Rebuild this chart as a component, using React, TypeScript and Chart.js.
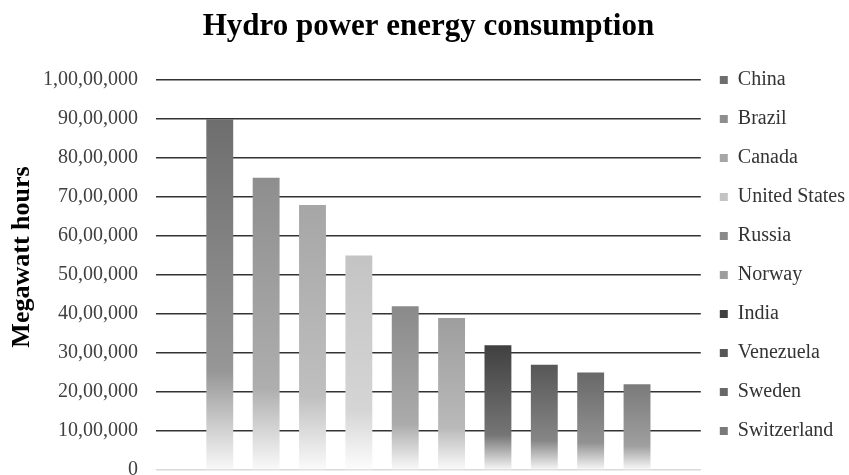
import React, { useEffect, useRef } from "react";
import { Chart, registerables } from "chart.js";

Chart.register(...registerables);

const chartTitle = "Hydro power energy consumption";
const yAxisTitle = "Megawatt hours";
const categories = ["China", "Brazil", "Canada", "United States", "Russia", "Norway", "India", "Venezuela", "Sweden", "Switzerland"];
const values = [9000000, 7500000, 6800000, 5500000, 4200000, 3900000, 3200000, 2700000, 2500000, 2200000];
const baseColors = ["#6e6e6e", "#8e8e8e", "#a6a6a6", "#c4c4c4", "#8a8a8a", "#9e9e9e", "#404040", "#575757", "#686868", "#7a7a7a"];
const yMin = 0;
const yMax = 10000000;
const yStep = 1000000;

function fmtIN(n: number): string {
  const s = Math.round(n).toString();
  if (s.length <= 3) return s;
  const last3 = s.slice(-3);
  let rest = s.slice(0, -3);
  const parts: string[] = [];
  while (rest.length > 2) {
    parts.unshift(rest.slice(-2));
    rest = rest.slice(0, -2);
  }
  if (rest) parts.unshift(rest);
  return parts.join(",") + "," + last3;
}

function mix(hex: string, t: number): string {
  const r = parseInt(hex.slice(1, 3), 16);
  const g = parseInt(hex.slice(3, 5), 16);
  const b = parseInt(hex.slice(5, 7), 16);
  const m = (c: number) => Math.round(c + (255 - c) * t);
  return `rgb(${m(r)},${m(g)},${m(b)})`;
}

const yTitlePlugin = {
  id: "yTitle",
  afterDraw(chart: any) {
    const ctx = chart.ctx;
    ctx.save();
    ctx.translate(22, 257);
    ctx.rotate(-Math.PI / 2);
    ctx.font = 'bold 26px "Liberation Serif"';
    ctx.fillStyle = "#000";
    ctx.textAlign = "center";
    ctx.textBaseline = "middle";
    ctx.fillText(yAxisTitle, 0, 0);
    ctx.restore();
  },
};

export default function App() {
  const ref = useRef<HTMLCanvasElement | null>(null);

  useEffect(() => {
    if (!ref.current) return;
    const datasets = categories.map((name, i) => ({
      label: name,
      data: [values[i]],
      backgroundColor: (c: any) => {
        const chart = c.chart;
        const area = chart.chartArea;
        if (!area || c.type !== "data") return baseColors[i];
        const top = chart.scales.y.getPixelForValue(c.raw);
        const g = chart.ctx.createLinearGradient(0, top, 0, area.bottom);
        g.addColorStop(0, baseColors[i]);
        g.addColorStop(0.72, mix(baseColors[i], 0.28));
        g.addColorStop(1, mix(baseColors[i], 0.96));
        return g;
      },
      borderWidth: 0,
      categoryPercentage: 0.851,
      barPercentage: 0.58,
    }));

    const chart = new Chart(ref.current, {
      type: "bar",
      data: { labels: [""], datasets },
      plugins: [yTitlePlugin],
      options: {
        responsive: false,
        animation: false,
        layout: { padding: { left: 0, right: -6, top: 0, bottom: 5 } },
        plugins: {
          title: {
            display: true,
            text: chartTitle,
            fullSize: false,
            color: "#000",
            font: { family: "Liberation Serif", size: 31, weight: "bold" },
            padding: { top: 8, bottom: 35 },
          },
          legend: {
            display: true,
            position: "right",
            align: "start",
            title: { display: true, text: " ", font: { size: 10 }, padding: { top: 39, bottom: 0 } },
            labels: {
              boxWidth: 8,
              boxHeight: 8,
              padding: 19,
              color: "#333",
              font: { family: "Liberation Serif", size: 20 },
              generateLabels: (chart: any) => {
                const items = Chart.defaults.plugins.legend.labels.generateLabels(chart);
                return items.map((it: any, i: number) => ({
                  ...it,
                  fillStyle: baseColors[i],
                  strokeStyle: baseColors[i],
                  lineWidth: 0,
                }));
              },
            },
          },
          tooltip: { enabled: false },
        },
        scales: {
          x: { display: false },
          y: {
            min: yMin,
            max: yMax,
            border: { display: false },
            grid: {
              drawTicks: false,
              lineWidth: 1.5,
              color: (c: any) => (c.tick && c.tick.value === 0 ? "#d9d9d9" : "#333"),
            },
            ticks: {
              stepSize: yStep,
              padding: 18,
              color: "#404040",
              font: { family: "Liberation Serif", size: 20 },
              callback: (v: any) => fmtIN(Number(v)),
            },
            afterFit: (s: any) => {
              s.width = 156;
              s.paddingTop = 0;
              s.paddingBottom = 0;
            },
          },
        },
      },
    } as any);
    return () => chart.destroy();
  }, []);

  return (
    <div style={{ position: "absolute", left: 0, top: 0, width: 849, height: 475, background: "#fff" }}>
      <canvas ref={ref} width={849} height={475} />
    </div>
  );
}
